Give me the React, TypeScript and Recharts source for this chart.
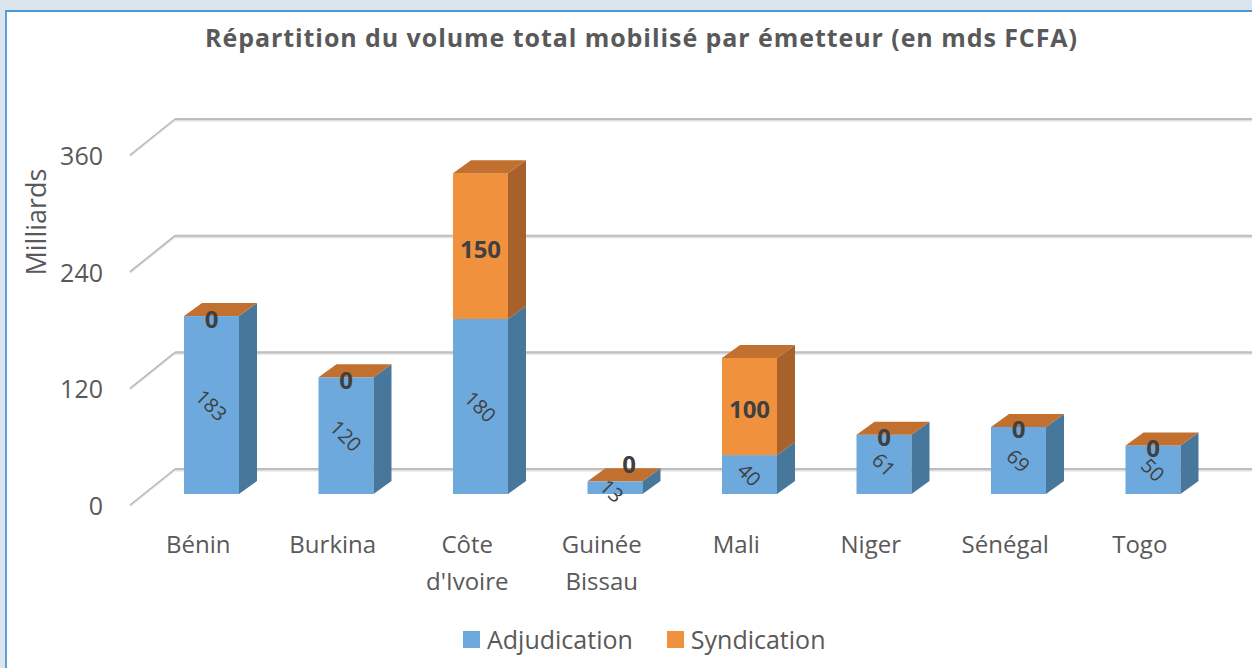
import React from 'react';
import { BarChart, Bar, XAxis, YAxis, CartesianGrid, LabelList, Legend } from 'recharts';

const categories = ['Bénin', 'Burkina', "Côte d'Ivoire", 'Guinée Bissau', 'Mali', 'Niger', 'Sénégal', 'Togo'];
const adjudication = [183, 120, 180, 13, 40, 61, 69, 50];
const syndication = [0, 0, 150, 0, 100, 0, 0, 0];
const yTicks = [0, 120, 240, 360];
const seriesNames = ['Adjudication', 'Syndication'];
const chartTitle = 'Répartition du volume total mobilisé par émetteur (en mds FCFA)';
const yAxisTitle = 'Milliards';

const data = categories.map((c, i) => ({ name: c, adj: adjudication[i], syn: syndication[i] }));

const FONT = "'Open Sans', sans-serif";
const TEXT = '#595959';
const LABEL = '#404040';
const DX = 18;
const DY = 13;
const BASE_Y = 494;

const BLUE = { front: '#6DA9DC', side: '#47789C', top: '#5B93C4' };
const ORANGE = { front: '#F0913E', side: '#A8612A', top: '#C2702F' };

const makeShape = (c: typeof BLUE, drawTop: boolean) => (props: any) => {
  const { x, y, width, height } = props;
  if (x == null || y == null) return <g />;
  const h = Math.max(0, height || 0);
  return (
    <g>
      <rect x={x} y={y} width={width} height={h} fill={c.front} />
      <polygon
        points={`${x + width},${y} ${x + width + DX},${y - DY} ${x + width + DX},${y + h - DY} ${x + width},${y + h}`}
        fill={c.side}
      />
      {drawTop && (
        <polygon
          points={`${x},${y} ${x + DX},${y - DY} ${x + width + DX},${y - DY} ${x + width},${y}`}
          fill={c.top}
        />
      )}
    </g>
  );
};

const gridLine = (props: any) => {
  const y = props.y1;
  const by = y - 25;
  return (
    <g key={props.key ?? `g-${y}`}>
      <line x1={130} y1={y + 12} x2={175} y2={by + 1} stroke="#E2E2E2" strokeWidth={2} />
      <line x1={175} y1={by + 1.5} x2={1252} y2={by + 1.5} stroke="#E0E0E0" strokeWidth={2} />
      <line x1={130} y1={y + 11} x2={175} y2={by} stroke="#B8B8B8" strokeWidth={1.5} />
      <line x1={175} y1={by} x2={1252} y2={by} stroke="#BDBDBD" strokeWidth={2} />
    </g>
  );
};

const YTick = (p: any) => (
  <text x={103} y={p.y + 11} textAnchor="end" dominantBaseline="central" fontFamily={FONT} fontSize={25} fill={TEXT}>
    {p.payload.value}
  </text>
);

const XTick = (p: any) => {
  const lines = String(p.payload.value).split(' ');
  return (
    <text x={p.x - 13} y={p.y + 59} textAnchor="middle" fontFamily={FONT} fontSize={24} fill={TEXT}>
      {lines.map((l, i) => (
        <tspan key={i} x={p.x - 13} dy={i === 0 ? 0 : 37}>
          {l}
        </tspan>
      ))}
    </text>
  );
};

const adjLabel = (props: any) => {
  const vb = props.viewBox || props;
  const cx = vb.x + vb.width / 2;
  const small = vb.height < 25;
  const cy = vb.y + vb.height / 2 + (small ? 3 : 0);
  const cxx = cx + (small ? -3 : 0);
  return (
    <text
      x={cxx}
      y={cy}
      transform={`rotate(45 ${cxx} ${cy})`}
      textAnchor="middle"
      dominantBaseline="central"
      fontFamily={FONT}
      fontSize={20}
      fill={LABEL}
    >
      {props.value}
    </text>
  );
};

const synLabel = (props: any) => {
  const vb = props.viewBox || props;
  let cx = vb.x + vb.width / 2;
  let cy = vb.y + vb.height / 2 + 2;
  // lift the label above the box when the whole stack is too short to hold it
  if (BASE_Y - vb.y < 25) {
    cx += 14;
    cy = vb.y - 18;
  }
  return (
    <text x={cx} y={cy} textAnchor="middle" dominantBaseline="central" fontFamily={FONT} fontSize={24} fontWeight="bold" fill={LABEL}>
      {props.value}
    </text>
  );
};

const legendContent = (props: any) => {
  const payload = props.payload || [];
  return (
    <div style={{ display: 'flex', alignItems: 'center', fontFamily: FONT, fontSize: 25, color: TEXT, whiteSpace: 'nowrap' }}>
      {payload.map((item: any, i: number) => (
        <div key={i} style={{ display: 'flex', alignItems: 'center', marginRight: 34 }}>
          <div style={{ width: 17, height: 17, background: item.color, marginRight: 7 }} />
          <span style={{ lineHeight: '30px' }}>{item.value}</span>
        </div>
      ))}
    </div>
  );
};

const yLabel = () => (
  <text
    x={35}
    y={222}
    transform="rotate(-90 35 222)"
    textAnchor="middle"
    dominantBaseline="central"
    fontFamily={FONT}
    fontSize={27}
    fill={TEXT}
  >
    {yAxisTitle}
  </text>
);

export default function App() {
  return (
    <div style={{ position: 'absolute', left: 0, top: 0, width: 1252, height: 668, background: '#DCE4EE', overflow: 'hidden' }}>
      <div
        style={{
          position: 'absolute',
          left: 5,
          top: 10,
          width: 1300,
          height: 700,
          background: '#FFFFFF',
          borderLeft: '2px solid #5AA2D8',
          borderTop: '2px solid #4A98D8',
        }}
      />
      <div style={{ position: 'absolute', left: 0, top: 0 }}>
        <BarChart width={1252} height={668} data={data} margin={{ top: 144, right: 32, left: 0, bottom: 0 }}>
          <CartesianGrid horizontal={gridLine} vertical={false} />
          <XAxis dataKey="name" height={174} axisLine={false} tickLine={false} tickSize={0} tickMargin={0} tick={XTick} interval={0} />
          <YAxis
            width={144}
            domain={[0, 360]}
            ticks={yTicks}
            axisLine={false}
            tickLine={false}
            tickSize={0}
            tickMargin={0}
            tick={YTick}
            label={yLabel}
          />
          <Legend
            verticalAlign="middle"
            align="center"
            layout="horizontal"
            wrapperStyle={{ top: 624, left: 463, width: 700 }}
            content={legendContent}
          />
          <Bar dataKey="adj" name={seriesNames[0]} stackId="s" barSize={55} fill={BLUE.front} shape={makeShape(BLUE, false)} isAnimationActive={false}>
            <LabelList dataKey="adj" content={adjLabel} />
          </Bar>
          <Bar dataKey="syn" name={seriesNames[1]} stackId="s" barSize={55} fill={ORANGE.front} shape={makeShape(ORANGE, true)} isAnimationActive={false}>
            <LabelList dataKey="syn" content={synLabel} />
          </Bar>
        </BarChart>
      </div>
      <svg style={{ position: 'absolute', left: 0, top: 0, pointerEvents: 'none' }} width={1252} height={70}>
        <text
          x={641}
          y={47}
          textAnchor="middle"
          fontFamily={FONT}
          fontSize={25}
          fontWeight="bold"
          fill={TEXT}
          textLength={872}
          lengthAdjust="spacing"
        >
          {chartTitle}
        </text>
      </svg>
    </div>
  );
}
